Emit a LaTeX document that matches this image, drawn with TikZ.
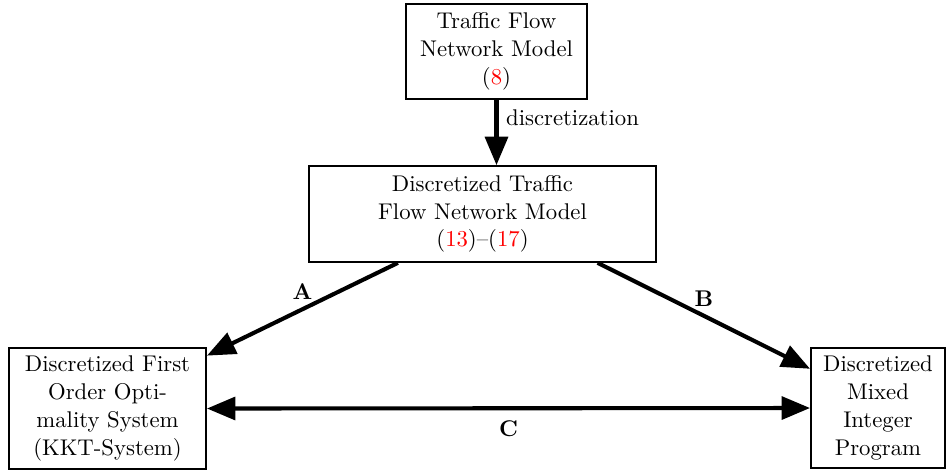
\documentclass[tikz,border=0pt]{standalone}
\usepackage{xcolor}
\usepackage{tikz}
\usetikzlibrary{positioning,arrows.meta}

\begin{document}
\begin{tikzpicture}[
		x=0.44pt, y=-0.44pt,
		model/.style={rectangle, draw=black, thick, align=center, inner sep=2pt, font={\fontsize{10}{12.2}\selectfont}},
		flow/.style={line width=1.8pt, -{Triangle[length=12.5pt,width=10pt]}},
		both/.style={line width=1.8pt, {Triangle[length=12.5pt,width=10pt]}-{Triangle[length=12.5pt,width=10pt]}},
		]
		\useasboundingbox (0,0) rectangle (951,472);

		%Main Nodes
		\node[model, minimum width=79.6pt, minimum height=41.8pt]	(tfnm)	at (496.5,51.5)	{Traffic Flow\\Network Model\\(\textcolor{red}{8})};
		\node[model, minimum width=152.7pt, minimum height=42.2pt]	(dtfnm)	at (482.5,214)	{Discretized Traffic\\Flow Network Model\\(\textcolor{red}{13})--(\textcolor{red}{17})};

		%Reformulations
		\node[model, minimum width=86.7pt, minimum height=53.2pt]	(kkt)	at (107.5,408.5)	{Discretized First\\Order Opti-\\mality System\\(KKT-System)};
		\node[model, minimum width=59pt, minimum height=52.8pt]	(mip)	at (878,408)	{Discretized\\Mixed\\Integer\\Program};

		%Connections
		\draw[flow]	(tfnm.south)	--	node[right, pos=0.28]	{discretization}	(tfnm.south |- dtfnm.north);
		\draw[flow]	(dtfnm.210)	--	node[above]	{\textbf{A}}	(kkt.28);
		\draw[flow]	(dtfnm.337)	--	node[above]	{\textbf{B}}	(mip.150);
		\draw[both]	(kkt.east)	--	node[below, yshift=-1pt]	{\textbf{C}}	(mip.west);
	\end{tikzpicture}
\end{document}
